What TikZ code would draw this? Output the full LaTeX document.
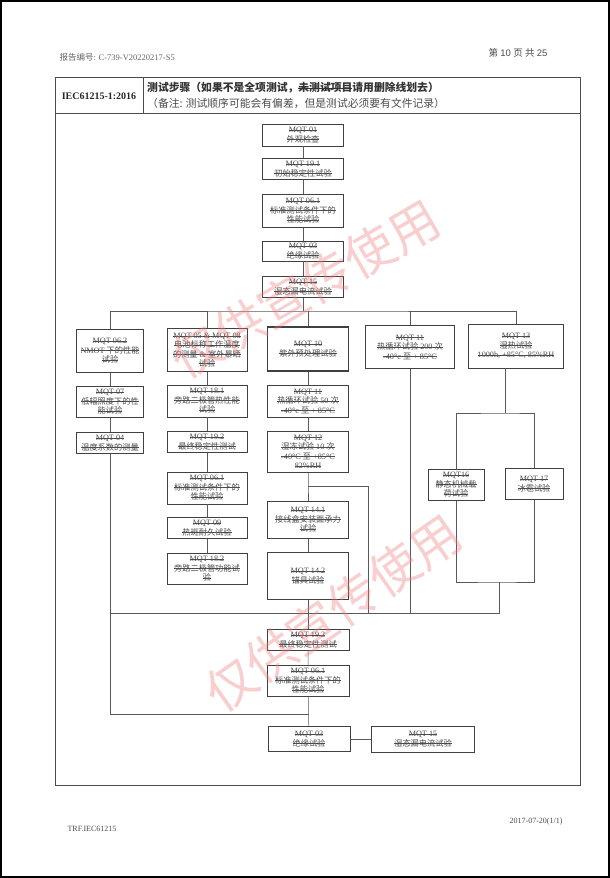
\documentclass[tikz,border=0pt]{standalone}
\usepackage{fontspec}
\setmainfont{Liberation Serif}
\newfontfamily\cjk{Noto Sans CJK SC}
\newfontfamily\arial{Liberation Sans}
\usetikzlibrary{positioning}

% struck-through line of text
\newcommand\del[1]{\setbox0\hbox{#1}\rlap{\rule[0.32em]{\wd0}{0.4pt}}\box0}

\begin{document}
\begin{tikzpicture}[x=1pt, y=-1pt,
  box/.style 2 args={draw=black!75, line width=0.6pt, fill=white, align=center,
    inner sep=1pt, minimum width=#1pt, minimum height=#2pt,
    text=black!70, font=\fontsize{8.2}{9.5}\selectfont},
  thickbox/.style 2 args={box={#1}{#2}, line width=1.1pt},
  wire/.style={draw=black!65, line width=0.5pt},
  wmark/.style={text={rgb,255:red,236;green,120;blue,120}, opacity=0.36,
    font=\cjk\fontsize{50}{50}\selectfont}]
  \useasboundingbox (0,0) rectangle (610,878);
  \fill[white] (0,0) rectangle (610,878);
  \draw[line width=1.6pt] (0.8,0.8) rectangle (609.2,877.2);

  % page head and foot
  \node[anchor=west, text=black!60, font=\fontsize{8.5}{10}\selectfont] (repno) at (56,57)
    {{\cjk 报告编号}: C-739-V20220217-S5};
  \node[anchor=east, text=black!70, font=\fontsize{9.5}{11}\selectfont] (pageno) at (551,53)
    {{\cjk 第} {\arial 10} {\cjk 页 共} {\arial 25}};
  \node[anchor=west, text=black!70, font=\fontsize{8}{10}\selectfont] (trf) at (64,829) {TRF.IEC61215};
  \node[anchor=east, text=black!70, font=\fontsize{8}{10}\selectfont] (date) at (566,822) {2017-07-20(1/1)};

  % table frame
  \draw[black!70, line width=0.7pt] (55,77) rectangle (580,785);
  \draw[black!70, line width=0.7pt] (55,113) -- (580,113);
  \draw[black!70, line width=0.7pt] (143,77) -- (143,113);
  \node[font=\bfseries\fontsize{10}{12}\selectfont, text=black!85] (std) at (99,96) {IEC61215-1:2016};
  \node[anchor=west, inner sep=0pt, text=black!80, font=\cjk\bfseries\fontsize{10.8}{12}\selectfont] (title) at (147,88)
    {测试步骤（如果不是全项测试，\del{未测试项目}请用删除线划去）};
  \node[anchor=west, inner sep=0pt, text=black!70, font=\cjk\fontsize{10.8}{12}\selectfont] (note) at (147,103)
    {（备注: 测试顺序可能会有偏差，但是测试必须要有文件记录）};

  % first part of the sequence
  \node[box={81}{22}] (n01) at (303,135) {\del{MQT 01}\\\del{\cjk 外观检查}};
  \node[box={81}{21}] (n191) at (303,169) {\del{MQT 19.1}\\\del{\cjk 初始稳定性试验}};
  \node[box={81}{33}] (n061) at (303,211) {\del{MQT 06.1}\\\del{\cjk 标准测试条件下的}\\\del{\cjk 性能试验}};
  \node[box={81}{20}] (n03) at (303,251) {\del{MQT 03}\\\del{\cjk 绝缘试验}};
  \node[box={81}{21}] (n15) at (303,287) {\del{MQT 15}\\\del{\cjk 湿态漏电流试验}};
  \coordinate (bus) at (303,311);

  % sequence A
  \node[box={67}{43}] (a062) at (110,351) {\del{MQT 06.2}\\\del{NMOT {\cjk 下的性能}}\\\del{\cjk 试验}};
  \node[box={67}{31}] (a07) at (110,402) {\del{MQT 07}\\\del{\cjk 低辐照度下的性}\\\del{\cjk 能试验}};
  \node[box={67}{21}] (a04) at (110,443) {\del{MQT 04}\\\del{\cjk 温度系数的测量}};

  % sequence B
  \node[box={80}{43}, font=\fontsize{8.2}{9.2}\selectfont] (b0508) at (207,350) {\del{MQT 05 \& MQT 08}\\\del{\cjk 电池标称工作温度}\\\del{{\cjk 的测量} \& {\cjk 室外暴晒}}\\\del{\cjk 试验}};
  \node[box={80}{32}] (b181) at (207,401) {\del{MQT 18.1}\\\del{\cjk 旁路二极管热性能}\\\del{\cjk 试验}};
  \node[box={80}{21}] (b192) at (207,442) {\del{MQT 19.2}\\\del{\cjk 最终稳定性测试}};
  \node[box={80}{32}] (b061) at (207,488) {\del{MQT 06.1}\\\del{\cjk 标准测试条件下的}\\\del{\cjk 性能试验}};
  \node[box={80}{21}] (b09) at (207,528) {\del{MQT 09}\\\del{\cjk 热斑耐久试验}};
  \node[box={80}{31}] (b182) at (207,569) {\del{MQT 18.2}\\\del{\cjk 旁路二极管功能试}\\\del{\cjk 验}};

  % sequence C
  \node[thickbox={81}{44}] (c10) at (308,349) {\del{MQT 10}\\\del{\cjk 紫外预处理试验}};
  \node[box={81}{32}] (c11) at (308,401) {\del{MQT 11}\\\del{{\cjk 热循环试验} 50 {\cjk 次}}\\\del{-40°c {\cjk 至} + 85°C}};
  \node[box={81}{41}] (c12) at (308,452) {\del{MQT 12}\\\del{{\cjk 湿冻试验} 10 {\cjk 次}}\\\del{-40°C {\cjk 至} +85°C}\\\del{82\%RH}};
  \node[box={81}{37}] (c141) at (308,520) {\del{MQT 14.1}\\\del{\cjk 接线盒安装面承力}\\\del{\cjk 试验}};
  \node[box={81}{47}] (c142) at (308,576) {\del{MQT 14.2}\\\del{\cjk 锚具试验}};
  \coordinate (splitC) at (308,486);
  \coordinate (splitR) at (368,486);

  % sequences D and E
  \node[box={89}{43}] (d11) at (410,347) {\del{MQT 11}\\\del{{\cjk 热循环试验} 200 {\cjk 次}}\\\del{-40°c {\cjk 至} + 85°C}};
  \node[box={95}{44}] (e13) at (516,346) {\del{MQT 13}\\\del{\cjk 湿热试验}\\\del{1000h, +85°C, 85\%RH}};
  \node[box={56}{31}] (e16) at (456,485) {\del{MQT16}\\\del{\cjk 静态机械载}\\\del{\cjk 荷试验}};
  \node[box={58}{31}] (e17) at (534,484) {\del{MQT 17}\\\del{\cjk 冰雹试验}};
  \coordinate (loopT) at (505,413);
  \coordinate (loopB) at (499,582);

  % final part of the sequence
  \coordinate (busL) at (110,613);
  \coordinate (busR) at (499,613);
  \node[box={82}{21}] (f192) at (308,640) {\del{MQT 19.2}\\\del{\cjk 最终稳定性测试}};
  \node[box={82}{31}] (f061) at (308,681) {\del{MQT 06.1}\\\del{\cjk 标准测试条件下的}\\\del{\cjk 性能试验}};
  \node[box={82}{25}] (f03) at (309,739) {\del{MQT 03}\\\del{\cjk 绝缘试验}};
  \node[box={103}{26}] (f15) at (423,739) {\del{MQT 15}\\\del{\cjk 湿态漏电流试验}};
  \coordinate (joinA) at (309,714);

  % connectors
  \draw[wire] (n01) -- (n191) -- (n061) -- (n03) -- (n15) -- (bus);
  \draw[wire] (a062.north) |- (bus) -| (e13.north);
  \draw[wire] (b0508.north) -- (b0508.north |- bus);
  \draw[wire] (d11.north) -- (d11.north |- bus);
  \draw[wire] (c10.north |- bus) -- (c10.north);
  \draw[wire] (a062) -- (a07) -- (a04);
  \draw[wire] (a04.south) |- (joinA);
  \draw[wire] (b0508) -- (b181) -- (b192) -- (b061) -- (b09) -- (b182);
  \draw[wire] (c10) -- (c11) -- (c12);
  \draw[wire] (c12.south) -- (splitC) -- (c141);
  \draw[wire] (splitC) -- (splitR) -- (splitR |- busR);
  \draw[wire] (c141) -- (c142) -- (f192);
  \draw[wire] (d11.south) -- (d11.south |- busR);
  \draw[wire] (loopT |- e13.south) -- (loopT);
  \draw[wire] (e16.north) |- (loopT) -| (e17.north);
  \draw[wire] (e16.south) |- (loopB) -| (e17.south);
  \draw[wire] (loopB) -- (busR) -- (busL);
  \draw[wire] (f192) -- (f061) -- (f03);
  \draw[wire] (f03) -- (f15);

  % watermark
  \node[wmark, rotate=30] (wm1) at (305,289) {仅供宣传使用};
  \node[wmark, rotate=35] (wm2) at (333,613) {仅供宣传使用};
\end{tikzpicture}
\end{document}
